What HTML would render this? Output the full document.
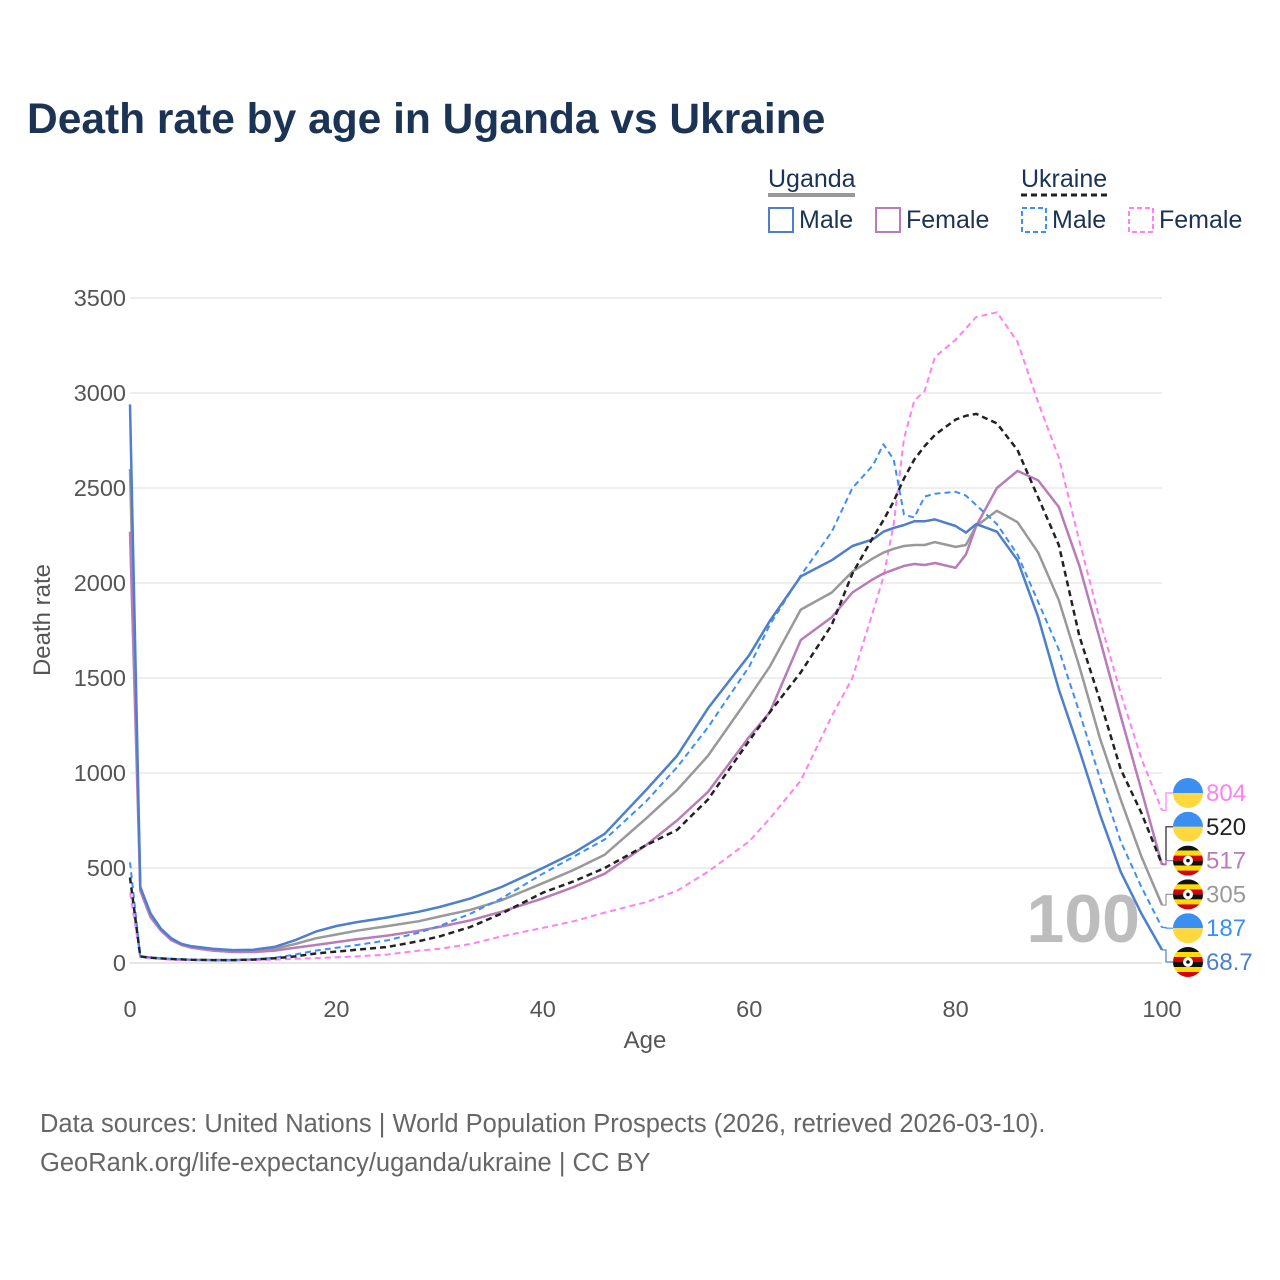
<!DOCTYPE html>
<html><head><meta charset="utf-8">
<style>
body{margin:0;background:#fff;}
svg{display:block;font-family:"Liberation Sans",sans-serif;}
</style></head>
<body>
<svg id="chart" width="1280" height="1280" viewBox="0 0 1280 1280" xmlns="http://www.w3.org/2000/svg">
<rect width="1280" height="1280" fill="#fff"/>
<text x="27" y="133" font-size="42.5" font-weight="bold" fill="#1b3354">Death rate by age in Uganda vs Ukraine</text>
<g>
<text x="768" y="187" font-size="25" fill="#1b3354">Uganda</text>
<line x1="768" y1="195" x2="855" y2="195" stroke="#999" stroke-width="4"/>
<text x="1021" y="187" font-size="25" fill="#1b3354">Ukraine</text>
<line x1="1021" y1="195" x2="1111" y2="195" stroke="#222" stroke-width="3" stroke-dasharray="6,4"/>
<g><rect x="769" y="208" width="24" height="24" fill="none" stroke="#4e7fcc" stroke-width="2"/><text x="799" y="228" font-size="25" fill="#1b3354">Male</text></g>
<g><rect x="876" y="208" width="24" height="24" fill="none" stroke="#b87cb8" stroke-width="2"/><text x="906" y="228" font-size="25" fill="#1b3354">Female</text></g>
<g><rect x="1022" y="208" width="24" height="24" fill="none" stroke="#3d8ef5" stroke-width="2" stroke-dasharray="5,3"/><text x="1052" y="228" font-size="25" fill="#1b3354">Male</text></g>
<g><rect x="1129" y="208" width="24" height="24" fill="none" stroke="#ff80f0" stroke-width="2" stroke-dasharray="5,3"/><text x="1159" y="228" font-size="25" fill="#1b3354">Female</text></g>
</g>
<g id="grid"></g>
<g id="yticks"></g>
<g id="xticks"></g>
<text x="645" y="1048" font-size="24" fill="#555" text-anchor="middle">Age</text>
<text x="0" y="0" font-size="24" fill="#555" text-anchor="middle" transform="translate(50,620) rotate(-90)">Death rate</text>
<text x="1140" y="942" font-size="68" font-weight="bold" fill="#bdbdbd" text-anchor="end">100</text>
<g id="lines"></g>
<g id="endlabels"></g>
<text x="40" y="1132" font-size="25.5" fill="#666">Data sources: United Nations | World Population Prospects (2026, retrieved 2026-03-10).</text>
<text x="40" y="1171" font-size="25.5" fill="#666">GeoRank.org/life-expectancy/uganda/ukraine | CC BY</text>
</svg>
<script>
const ages = [0,1,2,3,4,5,6,8,10,12,14,16,18,20,22,25,28,30,33,36,40,43,46,50,53,56,60,62,65,68,70,72,73,74,75,76,77,78,80,81,82,84,86,88,90,92,94,96,98,100];
const ugMale = [2940,400,260,180,130,100,88,75,68,70,85,120,165,195,215,240,270,295,340,400,500,580,680,910,1090,1340,1620,1800,2035,2120,2195,2230,2270,2290,2305,2325,2325,2335,2300,2265,2310,2270,2120,1820,1440,1120,780,480,260,68.7];
const ugFemale = [2270,380,240,170,120,95,80,65,58,58,65,80,95,110,125,145,170,190,225,270,340,400,470,620,750,900,1190,1320,1700,1820,1950,2020,2050,2070,2090,2100,2095,2105,2080,2150,2300,2500,2590,2540,2400,2090,1700,1300,910,517];
const ugTotal = [2600,395,250,175,125,98,85,70,63,64,75,100,130,150,170,195,220,245,280,330,420,490,570,760,910,1090,1400,1560,1860,1950,2060,2130,2160,2180,2195,2200,2200,2215,2190,2200,2300,2380,2320,2160,1910,1560,1180,860,560,305];
const uaMale = [530,35,30,25,22,20,18,17,17,20,28,45,65,80,95,120,160,195,260,340,470,560,650,850,1030,1240,1560,1780,2040,2270,2500,2620,2730,2650,2360,2345,2455,2470,2480,2460,2410,2310,2150,1900,1650,1320,970,640,400,187];
const uaTotal = [450,35,28,24,21,19,17,15,15,18,25,35,50,60,70,85,115,140,190,260,370,430,500,620,700,860,1170,1320,1530,1780,2050,2240,2330,2430,2550,2650,2720,2780,2860,2880,2890,2840,2700,2450,2200,1720,1380,1020,790,520];
const uaFemale = [370,30,25,20,17,15,14,12,12,14,18,22,26,30,35,45,65,75,100,140,185,220,265,320,380,480,640,760,960,1300,1500,1850,2030,2310,2760,2960,3010,3190,3280,3340,3400,3425,3270,2950,2660,2220,1800,1420,1076,804];
const yTickVals = [0,500,1000,1500,2000,2500,3000,3500];
const xTickVals = [0,20,40,60,80,100];
const endValues = [804,520,517,305,187,68.7];

const NS="http://www.w3.org/2000/svg";
const X0=130,X1=1162,Y0=963,YTOP=298;
function xs(a){return X0+(X1-X0)*a/100;}
function ys(v){return Y0-(Y0-YTOP)*v/3500;}
function mk(tag,attrs,parent){const e=document.createElementNS(NS,tag);for(const k in attrs)e.setAttribute(k,attrs[k]);parent.appendChild(e);return e;}

const grid=document.getElementById('grid'),yt=document.getElementById('yticks'),xt=document.getElementById('xticks');
yTickVals.forEach(v=>{
  const l=mk('line',{x1:X0,x2:X1,y1:ys(v),y2:ys(v),stroke:v===0?'#ddd':'#e8e8e8','stroke-width':1.5},grid);
  
  
  const t=mk('text',{x:126,y:ys(v)+8,'font-size':23.5,fill:'#555','text-anchor':'end'},yt);
  t.textContent=v;
  
  
});
xTickVals.forEach(a=>{
  const t=mk('text',{x:xs(a),y:1017,'font-size':23.5,fill:'#555','text-anchor':'middle'},xt);
  t.textContent=a;
  
  
});

const series=[
  {name:'ukraine-female',vals:uaFemale,color:'#ff80f0',dash:'6,4',w:2},
  {name:'uganda-total',vals:ugTotal,color:'#999999',dash:'',w:2.5},
  {name:'uganda-female',vals:ugFemale,color:'#b87cb8',dash:'',w:2.5},
  {name:'ukraine-male',vals:uaMale,color:'#3d8ef5',dash:'6,4',w:2},
  {name:'uganda-male',vals:ugMale,color:'#4e7fcc',dash:'',w:2.5},
  {name:'ukraine-total',vals:uaTotal,color:'#222222',dash:'6,4',w:2.5}
];
const lines=document.getElementById('lines');
series.forEach(s=>{
  const d=s.vals.map((v,i)=>(i?'L':'M')+xs(ages[i]).toFixed(1)+','+ys(v).toFixed(1)).join(' ');
  const p=mk('path',{d:d,fill:'none',stroke:s.color,'stroke-width':s.w,'stroke-linejoin':'round'},lines);
  if(s.dash)p.setAttribute('stroke-dasharray',s.dash);
  
  
});

const labels=[
  {flag:'ua',color:'#ff80f0',src:uaFemale},
  {flag:'ua',color:'#222222',src:uaTotal},
  {flag:'ug',color:'#b87cb8',src:ugFemale},
  {flag:'ug',color:'#999999',src:ugTotal},
  {flag:'ua',color:'#3d8ef5',src:uaMale},
  {flag:'ug',color:'#4e7fcc',src:ugMale}
];
const el=document.getElementById('endlabels');
labels.forEach((L,i)=>{
  const ly=793+i*33.8;
  const yEnd=ys(L.src[L.src.length-1]);
  const c=mk('path',{d:`M${X1},${yEnd} H1166 V${ly} H1173`,fill:'none',stroke:L.color,'stroke-width':1.2},el);
  
  
  const g=mk('g',{},el);
  
  
  const cx=1188,r=15;
  const cid='clip'+i;
  const cp=mk('clipPath',{id:cid},g);
  mk('circle',{cx:cx,cy:ly,r:r},cp);
  const fg=mk('g',{'clip-path':`url(#${cid})`},g);
  if(L.flag==='ua'){
    mk('rect',{x:cx-r,y:ly-r,width:2*r,height:r,fill:'#3b8ff0'},fg);
    mk('rect',{x:cx-r,y:ly,width:2*r,height:r,fill:'#ffd83d'},fg);
  }else{
    const cols=['#111','#fcdc04','#d90000','#111','#fcdc04','#d90000'];
    cols.forEach((col,k)=>mk('rect',{x:cx-r,y:ly-r+k*5,width:2*r,height:5,fill:col},fg));
    mk('circle',{cx:cx,cy:ly,r:5,fill:'#fff'},fg);
    mk('circle',{cx:cx,cy:ly,r:1.8,fill:'#111'},fg);
  }
  const t=mk('text',{x:1206,y:ly+8,'font-size':24,fill:L.color},el);
  t.textContent=endValues[i];
  
  
});
</script>
</body></html>
